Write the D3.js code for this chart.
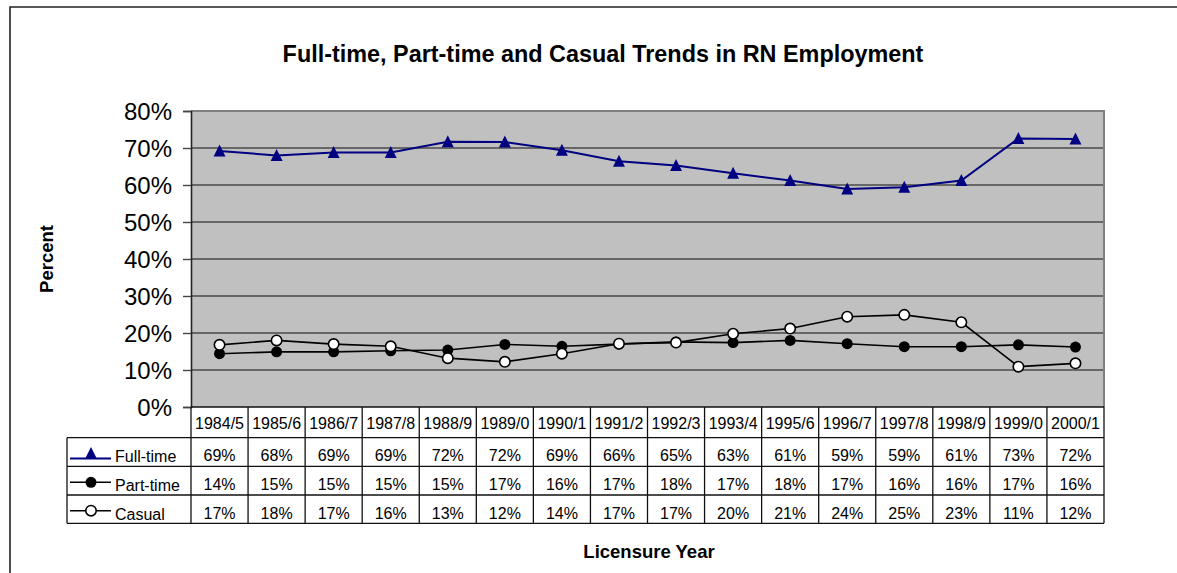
<!DOCTYPE html>
<html>
<head>
<meta charset="utf-8">
<script src="https://cdn.jsdelivr.net/npm/d3@7"></script>
<style>
  html, body { margin: 0; padding: 0; background: #fff; }
  svg { display: block; font-family: "Liberation Sans", Arial, sans-serif; }
</style>
</head>
<body>
<svg id="chart" width="1177" height="573"></svg>
<script>
// Licensure years (table columns / x categories)
const years = ["1984/5", "1985/6", "1986/7", "1987/8", "1988/9", "1989/0", "1990/1", "1991/2",
               "1992/3", "1993/4", "1995/6", "1996/7", "1997/8", "1998/9", "1999/0", "2000/1"];

// Share of RNs by employment status, in percent
const fullTime = [69.2, 68.0, 68.8, 68.8, 71.7, 71.6, 69.4, 66.4, 65.3, 63.2, 61.2, 58.9, 59.4, 61.2, 72.6, 72.4];
const partTime = [14.4, 14.9, 14.9, 15.2, 15.4, 16.9, 16.4, 17.0, 17.6, 17.4, 18.0, 17.1, 16.3, 16.3, 16.8, 16.2];
const casual   = [16.8, 18.0, 17.0, 16.4, 13.2, 12.2, 14.4, 17.1, 17.4, 19.8, 21.2, 24.4, 24.9, 22.9, 10.9, 11.8];

const seriesNames = ["Full-time", "Part-time", "Casual"];
const yTicks = [0, 10, 20, 30, 40, 50, 60, 70, 80];

const titleText = "Full-time, Part-time and Casual Trends in RN Employment";
const yTitle = "Percent";
const xTitle = "Licensure Year";

const series = [
  { name: seriesNames[0], values: fullTime, color: "#000080", marker: "triangle", width: 2 },
  { name: seriesNames[1], values: partTime, color: "#000000", marker: "dot", width: 1.6 },
  { name: seriesNames[2], values: casual,   color: "#000000", marker: "circle", width: 1.6 }
];

const svg = d3.select("#chart");

// plot area
const plot = { left: 191, right: 1104, top: 111, bottom: 407 };
const x = d3.scaleBand().domain(years).range([plot.left, plot.right]);
const y = d3.scaleLinear().domain([0, 80]).range([plot.bottom, plot.top]);
const cx = d => x(d) + x.bandwidth() / 2;

// outer chart frame (runs off the right and bottom of the page)
svg.append("path")
  .attr("d", "M10,600 L10,7 L1200,7")
  .attr("fill", "none").attr("stroke", "#222").attr("stroke-width", 1.6);

// title
svg.append("text")
  .attr("x", 603).attr("y", 62)
  .attr("text-anchor", "middle")
  .attr("font-size", 23.4).attr("font-weight", "bold")
  .text(titleText);

// plot background
svg.append("rect")
  .attr("x", plot.left).attr("y", plot.top)
  .attr("width", plot.right - plot.left).attr("height", plot.bottom - plot.top)
  .attr("fill", "#c0c0c0");

// horizontal gridlines
svg.append("g").selectAll("line")
  .data(yTicks.filter(t => t > 0 && t < 80))
  .join("line")
  .attr("x1", plot.left).attr("x2", plot.right)
  .attr("y1", d => y(d)).attr("y2", d => y(d))
  .attr("stroke", "#4a4a4a").attr("stroke-width", 1.4);

// plot border (top and right)
svg.append("path")
  .attr("d", `M${plot.left},${plot.top} L${plot.right},${plot.top} L${plot.right},${plot.bottom}`)
  .attr("fill", "none").attr("stroke", "#808080").attr("stroke-width", 2);

// y axis
const yAxis = svg.append("g")
  .attr("transform", `translate(${plot.left},0)`)
  .call(d3.axisLeft(y).tickValues(yTicks).tickFormat(d => d + "%").tickSize(8).tickPadding(11));
yAxis.select(".domain").attr("stroke", "#222").attr("stroke-width", 1.6);
yAxis.selectAll(".tick line").attr("stroke", "#444").attr("stroke-width", 1.4);
yAxis.selectAll(".tick text")
  .attr("font-size", 24).attr("fill", "#000")
  .attr("font-family", "'Liberation Sans', Arial, sans-serif")
  .attr("dy", "0.36em");

// y title
svg.append("text")
  .attr("transform", "translate(53,259) rotate(-90)")
  .attr("text-anchor", "middle")
  .attr("font-size", 18.5).attr("font-weight", "bold")
  .text(yTitle);

// marker drawing
const triPath = "M0,-6.5 L6,5.5 L-6,5.5 Z";
function drawMarker(g, s, px, py) {
  if (s.marker === "triangle") {
    g.append("path").attr("d", triPath)
      .attr("transform", `translate(${px},${py})`)
      .attr("fill", s.color);
  } else if (s.marker === "dot") {
    g.append("circle").attr("cx", px).attr("cy", py).attr("r", 5.5).attr("fill", "#000");
  } else {
    g.append("circle").attr("cx", px).attr("cy", py).attr("r", 5.2)
      .attr("fill", "#fff").attr("stroke", "#000").attr("stroke-width", 1.6);
  }
}

// series lines and markers
const line = d3.line().x((d, i) => cx(years[i])).y(d => y(d));
series.forEach(s => {
  const g = svg.append("g");
  g.append("path")
    .attr("d", line(s.values))
    .attr("fill", "none").attr("stroke", s.color).attr("stroke-width", s.width);
  s.values.forEach((v, i) => drawMarker(g, s, cx(years[i]), y(v)));
});

// data table
const table = { left: 67, headTop: plot.bottom, rowTops: [437.7, 466.3, 495, 523.3] };
const tg = svg.append("g");
const gridStroke = "#111";

// horizontal rules
table.rowTops.forEach(ry => {
  tg.append("line")
    .attr("x1", table.left).attr("x2", plot.right)
    .attr("y1", ry).attr("y2", ry)
    .attr("stroke", gridStroke).attr("stroke-width", 1.3);
});
// plot baseline
tg.append("line")
  .attr("x1", plot.left).attr("x2", plot.right)
  .attr("y1", plot.bottom).attr("y2", plot.bottom)
  .attr("stroke", gridStroke).attr("stroke-width", 1.6);

// vertical rules at each column boundary
const bounds = years.map(d => x(d)).concat([plot.right]);
tg.selectAll("line.v").data(bounds).join("line")
  .attr("class", "v")
  .attr("x1", d => d).attr("x2", d => d)
  .attr("y1", plot.bottom).attr("y2", table.rowTops[3])
  .attr("stroke", gridStroke).attr("stroke-width", 1.3);
tg.append("line")
  .attr("x1", table.left).attr("x2", table.left)
  .attr("y1", table.rowTops[0]).attr("y2", table.rowTops[3])
  .attr("stroke", gridStroke).attr("stroke-width", 1.3);

// category header
tg.selectAll("text.cat").data(years).join("text")
  .attr("class", "cat")
  .attr("x", d => cx(d)).attr("y", plot.bottom + 22)
  .attr("text-anchor", "middle").attr("font-size", 16)
  .text(d => d);

// value rows with legend keys
const legendLineY = [20.8, 16, 15.7];
series.forEach((s, r) => {
  const top = table.rowTops[r];
  tg.selectAll(null).data(s.values).join("text")
    .attr("x", (d, i) => cx(years[i])).attr("y", top + 23.5)
    .attr("text-anchor", "middle").attr("font-size", 16)
    .text(d => Math.round(d) + "%");

  const ly = top + legendLineY[r];
  tg.append("line")
    .attr("x1", 70).attr("x2", 111).attr("y1", ly).attr("y2", ly)
    .attr("stroke", s.color).attr("stroke-width", s.width);
  drawMarker(tg, s, 91, s.marker === "triangle" ? ly - 5 : ly);

  tg.append("text")
    .attr("x", 115).attr("y", top + 24.5)
    .attr("font-size", 16)
    .text(s.name);
});

// x title
svg.append("text")
  .attr("x", 649).attr("y", 558)
  .attr("text-anchor", "middle")
  .attr("font-size", 18.5).attr("font-weight", "bold")
  .text(xTitle);
</script>
</body>
</html>
